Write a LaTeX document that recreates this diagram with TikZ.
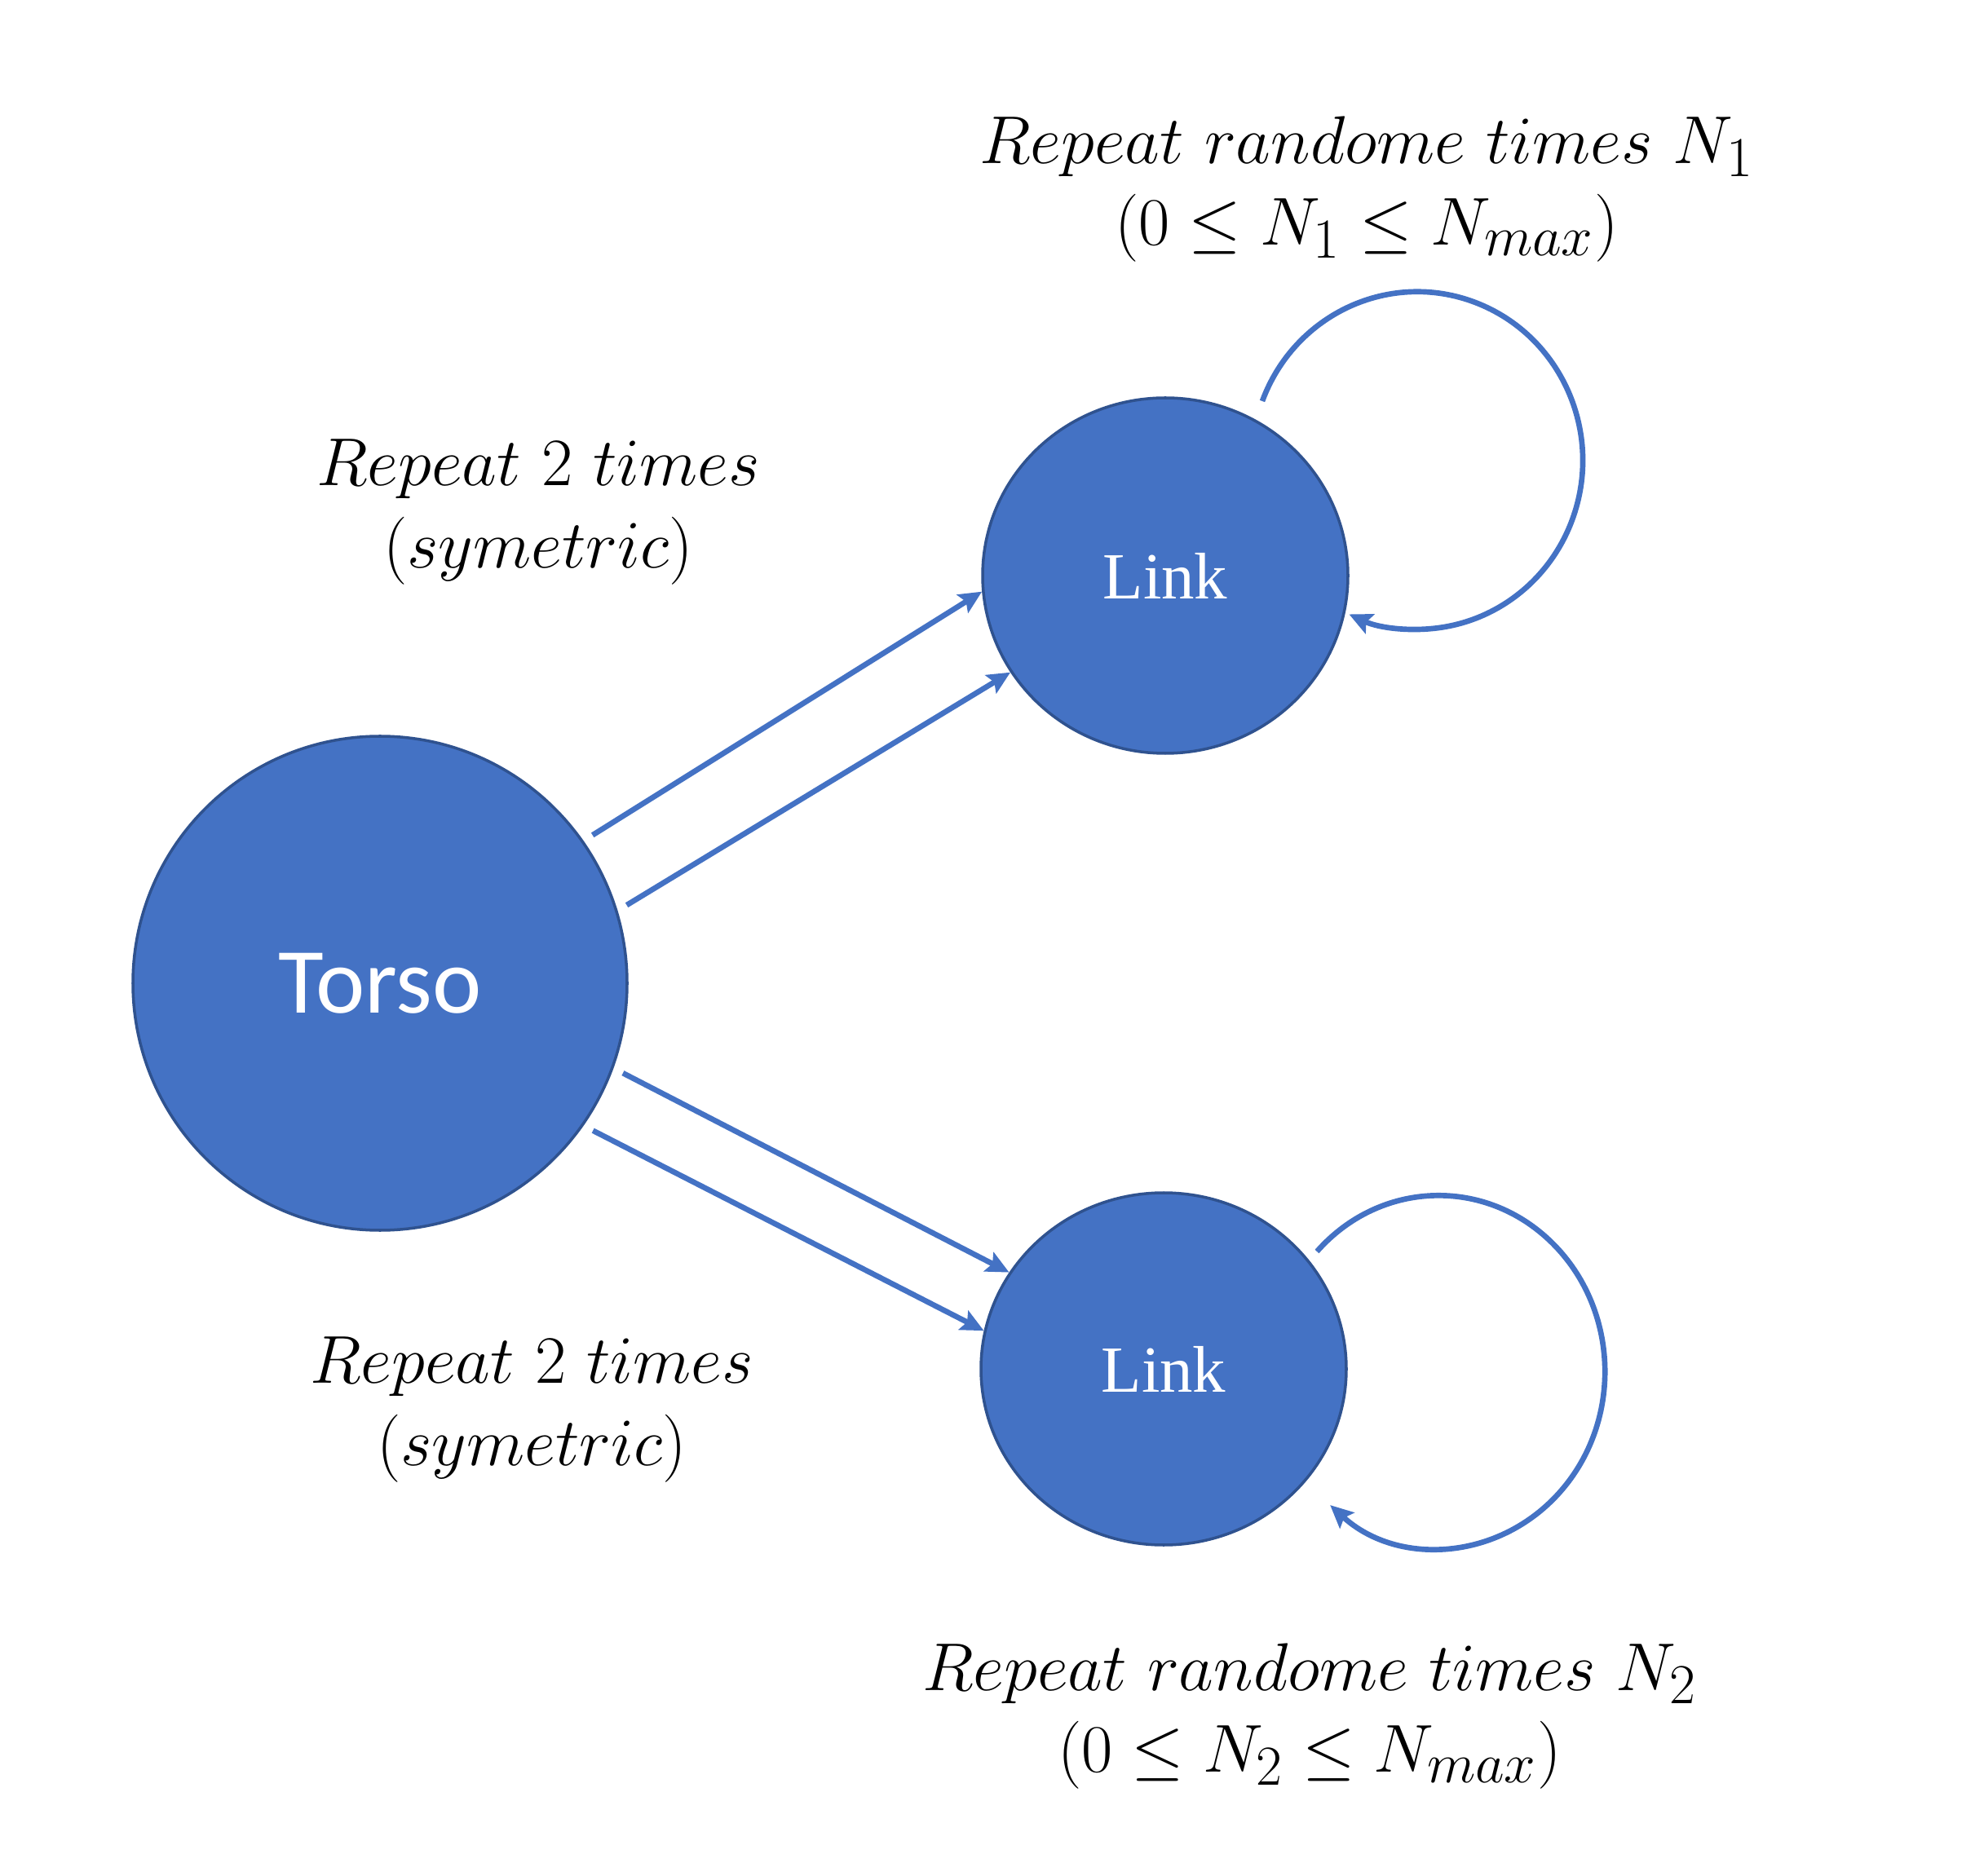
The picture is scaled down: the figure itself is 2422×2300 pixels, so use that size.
\documentclass[tikz,border=0pt]{standalone}
\usepackage{fontspec}
\usepackage{amsmath,amssymb}
\usetikzlibrary{arrows.meta,shapes.geometric}
\newfontfamily\torsofont{Carlito}
\newfontfamily\linkfont{Liberation Serif}
\definecolor{nodeblue}{HTML}{4472C4}
\definecolor{rimblue}{HTML}{2F528F}

\begin{document}
\begin{tikzpicture}[x=0.1mm,y=0.1mm,>={Stealth[length=2.8mm,width=2.6mm,inset=0.5mm]},
  blob/.style={ellipse,draw=rimblue,line width=1pt,fill=nodeblue,text=white,inner sep=0pt},
  flow/.style={->,draw=nodeblue,line width=1.9pt},
  lbl/.style={align=center,font=\fontsize{24.88}{30}\selectfont,scale=0.95,transform shape}]
\useasboundingbox (0,0) rectangle (2422,2300);
\node[blob,minimum width=60.6mm,minimum height=60.6mm,font=\torsofont\fontsize{32.5}{36}\selectfont] (torso) at (466,1094) {Torso};
\node[blob,minimum width=44.8mm,minimum height=43.6mm,font=\linkfont\fontsize{23}{28}\selectfont] (linkA) at (1429,1594) {Link};
\node[blob,minimum width=44.8mm,minimum height=43.2mm,font=\linkfont\fontsize{23}{28}\selectfont] (linkB) at (1427,621) {Link};
\draw[flow,shorten <=1.3mm] (torso.35) -- (linkA.185);
\draw[flow,shorten <=1.3mm] (torso.17) -- (linkA.212);
\draw[flow,shorten <=1.3mm] (torso.-20) -- (linkB.148);
\draw[flow,shorten <=1.3mm] (torso.-35) -- (linkB.168);
% self loops
\coordinate (loopA) at (1548,1808);
\coordinate (loopB) at (1615,765);
\draw[flow] (loopA) arc[start angle=159.4,end angle=-114.3,x radius=20.3mm,y radius=20.7mm];
\draw[flow] (loopB) arc[start angle=137,end angle=-130.7,x radius=20.4mm,y radius=21.6mm];
\node[lbl] (repA) at (660,1672) {$Repeat\ 2\ times$\\$(symetric)$};
\node[lbl] (repB) at (652,571) {$Repeat\ 2\ times$\\$(symetric)$};
\node[lbl] (randA) at (1676,2068) {$Repeat\ randome\ times\ N_1$\\$(0\le N_1\le N_{max})$};
\node[lbl] (randB) at (1606,195) {$Repeat\ randome\ times\ N_2$\\$(0\le N_2\le N_{max})$};
\end{tikzpicture}
\end{document}
